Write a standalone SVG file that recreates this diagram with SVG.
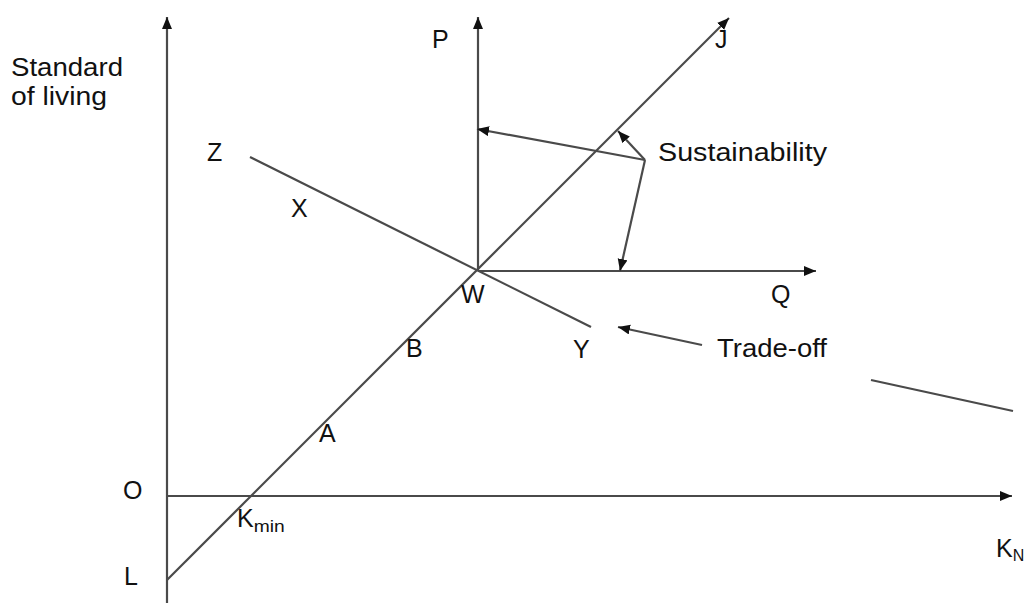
<svg xmlns="http://www.w3.org/2000/svg" width="1025" height="603" viewBox="0 0 1025 603">
<style>
.ln{stroke:#4a4a4a;stroke-width:2.2;fill:none}
.ar{marker-end:url(#ah)}
text{font-family:"Liberation Sans",Arial,sans-serif;font-size:25px;fill:#111}
.sub{font-size:16px}
</style>
<defs>
<marker id="ah" markerUnits="userSpaceOnUse" markerWidth="14" markerHeight="12" refX="12" refY="5" orient="auto">
<path d="M0,0 L12,5 L0,10 Z" fill="#111"/>
</marker>
</defs>
<rect width="1025" height="603" fill="#fff"/>
<g id="connectors">
<line id="y-axis" class="ln ar" x1="167" y1="603" x2="167" y2="17"/>
<line id="x-axis" class="ln ar" x1="167" y1="496" x2="1012" y2="496"/>
<line id="LJ" class="ln ar" x1="167" y1="580" x2="729" y2="18"/>
<line id="WP" class="ln ar" x1="478" y1="271" x2="478" y2="17"/>
<line id="WQ" class="ln ar" x1="478" y1="271" x2="816" y2="271"/>
<line id="ZY" class="ln" x1="250" y1="157" x2="591" y2="327"/>
<line id="s1" class="ln ar" x1="645" y1="160" x2="477" y2="129"/>
<line id="s2" class="ln ar" x1="645" y1="160" x2="618" y2="131"/>
<line id="s3" class="ln ar" x1="645" y1="160" x2="620" y2="271"/>
<line id="t1" class="ln ar" x1="702" y1="345" x2="618" y2="327"/>
<line id="stray" class="ln" x1="871" y1="380" x2="1013" y2="411"/>
</g>
<g id="label-standard"><text x="11" y="76" textLength="112" lengthAdjust="spacingAndGlyphs">Standard</text><text x="11" y="105" textLength="96" lengthAdjust="spacingAndGlyphs">of living</text></g>
<g id="label-P"><text x="432" y="48">P</text></g>
<g id="label-J"><text x="715" y="48">J</text></g>
<g id="label-Z"><text x="207" y="161">Z</text></g>
<g id="label-X"><text x="291" y="217">X</text></g>
<g id="label-W"><text x="461" y="303">W</text></g>
<g id="label-Q"><text x="771" y="303">Q</text></g>
<g id="label-Y"><text x="573" y="358">Y</text></g>
<g id="label-B"><text x="406" y="357">B</text></g>
<g id="label-A"><text x="319" y="442">A</text></g>
<g id="label-O"><text x="123" y="499">O</text></g>
<g id="label-L"><text x="124" y="585">L</text></g>
<g id="label-Kmin"><text x="237" y="527">K<tspan class="sub" dy="5" textLength="31" lengthAdjust="spacingAndGlyphs">min</tspan></text></g>
<g id="label-KN"><text x="996" y="557">K<tspan class="sub" dy="4">N</tspan></text></g>
<g id="label-sustainability"><text x="658" y="161" textLength="169" lengthAdjust="spacingAndGlyphs">Sustainability</text></g>
<g id="label-tradeoff"><text x="717" y="357" textLength="110" lengthAdjust="spacingAndGlyphs">Trade-off</text></g>
</svg>
